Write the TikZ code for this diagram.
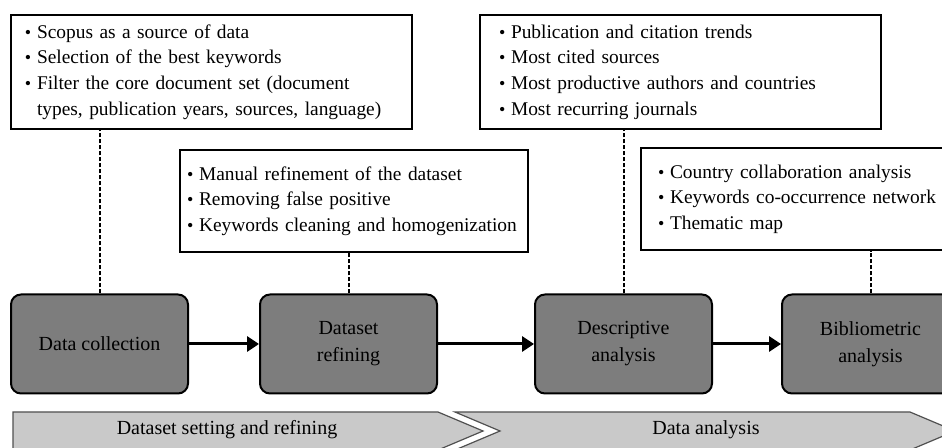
\documentclass[tikz,border=0pt]{standalone}
\usepackage{fontspec}
\setmainfont{Liberation Serif}
\usetikzlibrary{arrows.meta,positioning}
\definecolor{stagefill}{RGB}{125,125,125}
\definecolor{phasefill}{RGB}{201,201,201}
\definecolor{phaseline}{RGB}{80,80,80}
\newcommand{\bitem}{\makebox[6pt][l]{\small\textbullet}}
\newcommand{\bgap}{\hspace*{6pt}}

\begin{document}
\begin{tikzpicture}[
    x=0.5pt, y=-0.5pt,
    font=\fontsize{10}{12.8}\selectfont,
    note/.style={
      draw, line width=1pt, align=left,
      inner ysep=0pt, fill=white,
      font=\fontsize{9.7}{12.8}\selectfont
    },
    stage/.style={
      draw, line width=1pt, rounded corners=5pt, align=center,
      minimum width=88.5pt, minimum height=49.5pt,
      fill=stagefill, font=\fontsize{10}{13.5}\selectfont
    },
    phase/.style={fill=phasefill, draw=phaseline, line width=0.6pt},
    link/.style={line width=1pt, dash pattern=on 2pt off 1pt},
    flow/.style={line width=1.5pt, -{Triangle[length=6pt,width=7.5pt]}}
  ]
    \useasboundingbox (0,0) rectangle (942,448);
    \clip (0,0) rectangle (942,448);

    \node[note, text width=186.5pt, inner xsep=7pt, minimum height=57pt] (gather) at (211.5,72) {%
      \bitem Scopus as a source of data\\
      \bitem Selection of the best keywords\\
      \bitem Filter the core document set (document\\
      \bgap types, publication years, sources, language)};
    \node[note, text width=181.5pt, inner xsep=9.5pt, minimum height=57pt] (trends) at (680.5,72) {%
      \bitem Publication and citation trends\\
      \bitem Most cited sources\\
      \bitem Most productive authors and countries\\
      \bitem Most recurring journals};
    \node[note, text width=167pt, inner xsep=3.5pt, minimum height=51pt] (clean) at (354,201) {%
      \bitem Manual refinement of the dataset\\
      \bitem Removing false positive\\
      \bitem Keywords cleaning and homogenization};
    \node[note, text width=152pt, inner xsep=8.5pt, minimum height=51pt] (network) at (810,199) {%
      \bitem Country collaboration analysis\\
      \bitem Keywords co-occurrence network\\
      \bitem Thematic map};

    \node[stage] (collect) at (99.5,344) {Data collection};
    \node[stage, right=35pt of collect] (refine) {Dataset\\refining};
    \node[stage, right=48pt of refine] (describe) {Descriptive\\analysis};
    \node[stage, right=34pt of describe] (biblio) {Bibliometric\\analysis};

    \draw[link] (collect.north) -- (collect.north |- gather.south);
    \draw[link] (refine.north) -- (refine.north |- clean.south);
    \draw[link] (describe.north) -- (describe.north |- trends.south);
    \draw[link] (biblio.north) -- (biblio.north |- network.south);

    \draw[flow] (collect) -- (refine);
    \draw[flow] (refine) -- (describe);
    \draw[flow] (describe) -- (biblio);

    \draw[phase] (13,412) -- (438,412) -- (483,431) -- (438,450) -- (13,450) -- cycle;
    \draw[phase] (455,412) -- (910,412) -- (955,431) -- (910,450) -- (455,450) -- (500,431) -- cycle;
    \node (setting) at (227,430) {Dataset setting and refining};
    \node (analysis) at (706,430) {Data analysis};
  \end{tikzpicture}
\end{document}
